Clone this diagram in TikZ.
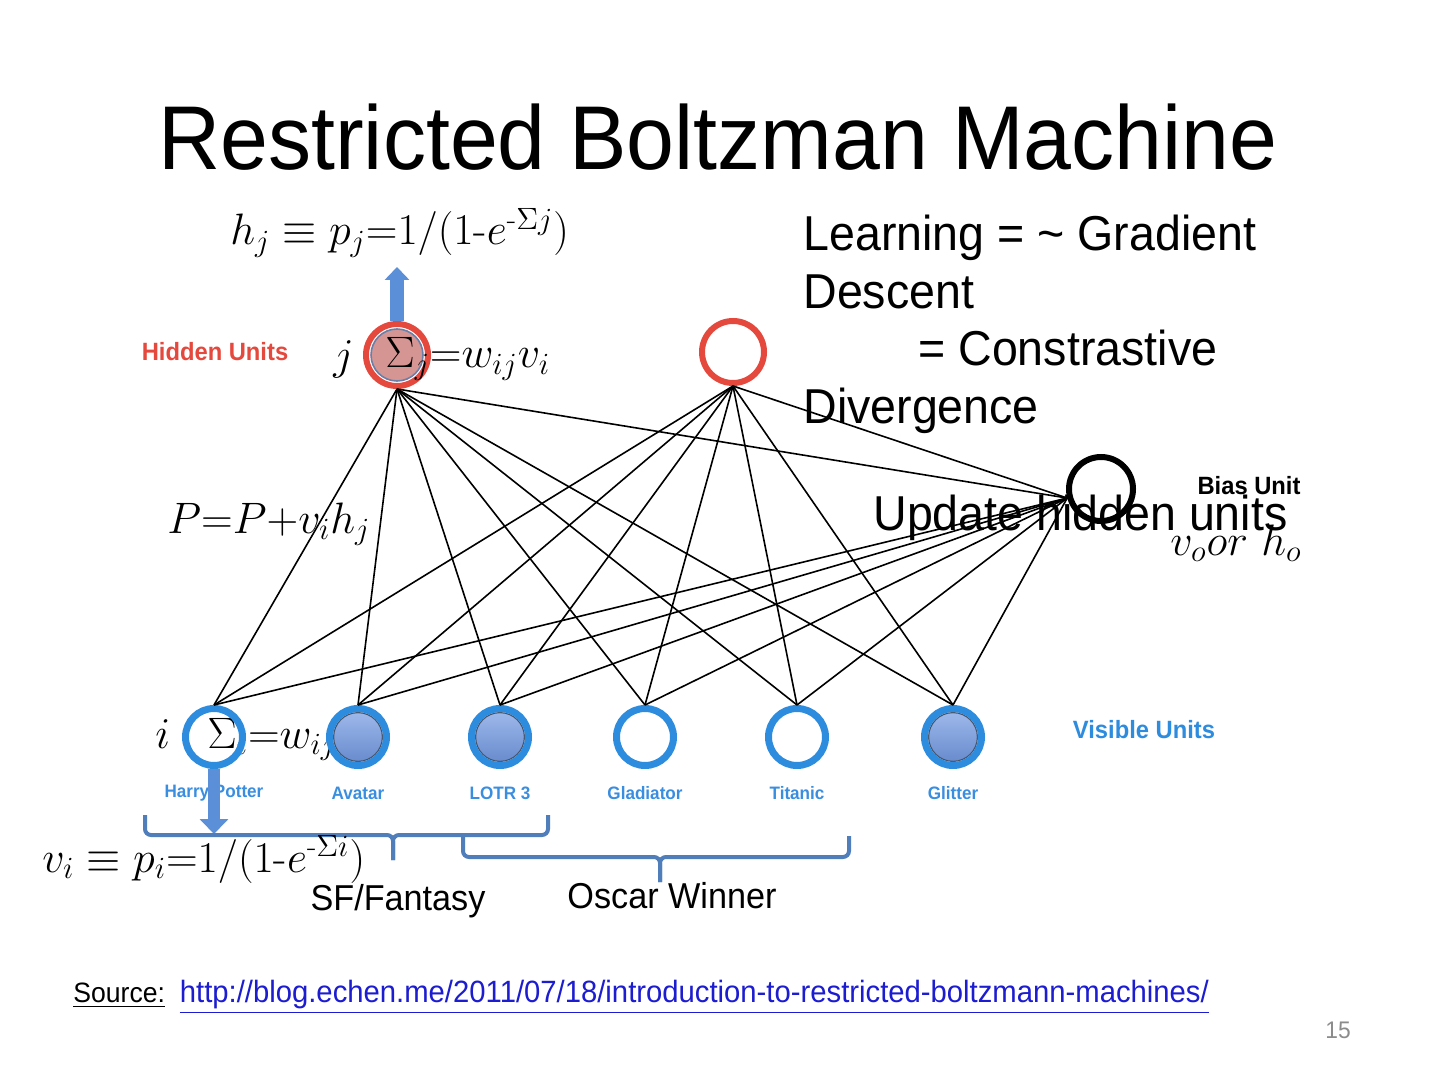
\documentclass[tikz,border=0pt]{standalone}
\usepackage{fix-cm}
\usepackage{amsmath}
\usepackage{fontspec}
\newfontfamily\slidefont{Liberation Sans}[FakeStretch=0.95]
\usetikzlibrary{arrows.meta}

\definecolor{hidred}{HTML}{E5483D}
\definecolor{hidpink}{HTML}{D59593}
\definecolor{rimblue}{HTML}{6A7FA8}
\definecolor{visblue}{HTML}{2E8CDF}
\definecolor{visfill}{HTML}{6F97E2}
\definecolor{rimgray}{HTML}{4A5468}
\definecolor{movieblue}{HTML}{3A8EE0}
\definecolor{arrowblue}{HTML}{5B8FD8}
\definecolor{bracesteel}{HTML}{4F7EBB}
\definecolor{linkblue}{HTML}{1C1CD0}
\definecolor{pagegray}{HTML}{8C8C8C}

\newcommand{\visd}{28.5pt}
\newcommand{\hidd}{31pt}
\newcommand{\biasd}{32pt}
\newcommand{\dotr}{12.2pt}
\newcommand{\visy}{737}

\begin{document}
\begin{tikzpicture}[x=0.5pt, y=-0.5pt,
    vis/.style={circle, draw=visblue, line width=3.5pt, minimum size=\visd, inner sep=0pt},
    visempty/.style={vis},
    visfull/.style={vis, path picture={\shadedraw[top color=visfill!65!white, bottom color=visfill!90!black, draw=rimgray, line width=0.6pt] (path picture bounding box.center) circle (\dotr);}},
    hid/.style={circle, draw=hidred, line width=3pt, minimum size=\hidd, inner sep=0pt},
    hidon/.style={hid, path picture={\filldraw[fill=hidpink, draw=rimblue, line width=0.8pt] (path picture bounding box.center) circle (13pt);}},
    biasunit/.style={circle, draw=black, line width=3pt, minimum size=\biasd, inner sep=0pt},
    tag/.style={font=\slidefont\bfseries\fontsize{12.5}{14}\selectfont, inner sep=0pt},
    movie/.style={font=\slidefont\bfseries\fontsize{9}{11}\selectfont, text=movieblue, inner sep=0pt},
    edge/.style={black, line width=0.8pt},
    formula/.style={font=\fontsize{22}{27}\selectfont, inner sep=0pt, anchor=base west},
    body/.style={font=\slidefont\fontsize{24.5}{28.75}\selectfont, inner sep=0pt},
    blockup/.style={arrowblue, line width=7pt, -{Triangle[width=12pt, length=6.5pt]}},
    blockdown/.style={arrowblue, line width=6pt, -{Triangle[width=14pt, length=7.5pt]}},
    groupbrace/.style={bracesteel, line width=2pt, rounded corners=3pt},
    group/.style={font=\slidefont\fontsize{18}{21}\selectfont, inner sep=0pt, anchor=base}
]
    \fill[white] (0,0) rectangle (1440,1080);
    \useasboundingbox (0,0) rectangle (1440,1080);

    \node[font=\slidefont\fontsize{45.3}{50}\selectfont, anchor=base, inner sep=0pt] (title) at (718,170) {Restricted Boltzman Machine};

    % hidden layer and bias
    \node[hidon] (hj) at (397,355) {};
    \node[hid] (hk) at (733,352) {};
    \node[biasunit] (bias) at (1101,489) {};
    \node[tag, text=hidred] (hidtag) at (215,352) {Hidden Units};
    \node[tag, text=black] (biastag) at (1249,486) {Bias Unit};

    % formulas and notes
    \node[formula] (hjeq) at (230,245) {$h_j \equiv p_j{=}1/(1\text{-}e^{\text{-}\Sigma j})$};
    \node[formula] (jname) at (333,370) {$j$};
    \node[formula] (jsum) at (385,368) {$\Sigma_j{=}w_{ij}v_i$};
    \node[formula] (pupd) at (167,533) {$P{=}P{+}v_ih_j$};
    \node[body, anchor=base west, align=left] (learn) at (803,423) {Learning = \textasciitilde{} Gradient\\Descent\\\hspace*{57.5pt}= Constrastive\\Divergence};
    \node[body, anchor=base west] (update) at (873,530) {Update hidden units};
    \node[formula] (vorh) at (1170,555) {$v_o or\ h_o$};
    \node[formula] (iname) at (155,748) {$i$};
    \node[formula] (isum) at (207,748) {$\Sigma_i{=}w_{ij}v_j$};

    % visible layer
    \foreach \name/\x/\sty/\lab in {vhp/214/visempty/Harry Potter, vav/358/visfull/Avatar, vlo/500/visfull/LOTR 3, vgl/645/visempty/Gladiator, vti/797/visempty/Titanic, vgt/953/visfull/Glitter} {
        \node[\sty] (\name) at (\x,\visy) {};
        \node[movie] (\name-lab) at (\x,793) {\lab};
    }
    \node[tag, text=visblue] (vistag) at (1144,730) {Visible Units};

    % weights
    \foreach \v in {vhp,vav,vlo,vgl,vti,vgt} {
        \draw[edge] (hj.south) -- (\v.north);
        \draw[edge] (hk.south) -- (\v.north);
        \draw[edge] (bias.195) -- (\v.north);
    }
    \draw[edge] (hj.south) -- (bias.195);
    \draw[edge] (hk.south) -- (bias.195);

    % sampling arrows
    \coordinate (uptip) at (397,267);
    \draw[blockup] (hj.north) -- (uptip);
    \coordinate (downtip) at (214,834);
    \draw[blockdown] (vhp.south) -- (downtip);

    % groups
    \draw[groupbrace] (145,815) -- (145,835) -- (393,835) -- (393,860);
    \draw[groupbrace] (548,815) -- (548,835) -- (393,835) -- (393,860);
    \draw[groupbrace] (463,836) -- (463,857) -- (660,857) -- (660,882);
    \draw[groupbrace] (849,836) -- (849,857) -- (660,857) -- (660,882);
    \node[group] (sf) at (398,910) {SF/Fantasy};
    \node[group] (oscar) at (672,908) {Oscar Winner};

    \node[formula] (vieq) at (42,872) {$v_i \equiv p_i{=}1/(1\text{-}e^{\text{-}\Sigma i})$};

    \node[font=\slidefont\fontsize{14}{16}\selectfont, anchor=base west, inner sep=0pt] (source) at (73,1002) {\underline{Source:}~~\textcolor{linkblue}{\fontsize{15.4}{17}\selectfont\underline{http://blog.echen.me/2011/07/18/introduction-to-restricted-boltzmann-machines/}}};
    \node[font=\slidefont\fontsize{12}{14}\selectfont, text=pagegray] (pagenum) at (1338,1030) {15};
\end{tikzpicture}
\end{document}
